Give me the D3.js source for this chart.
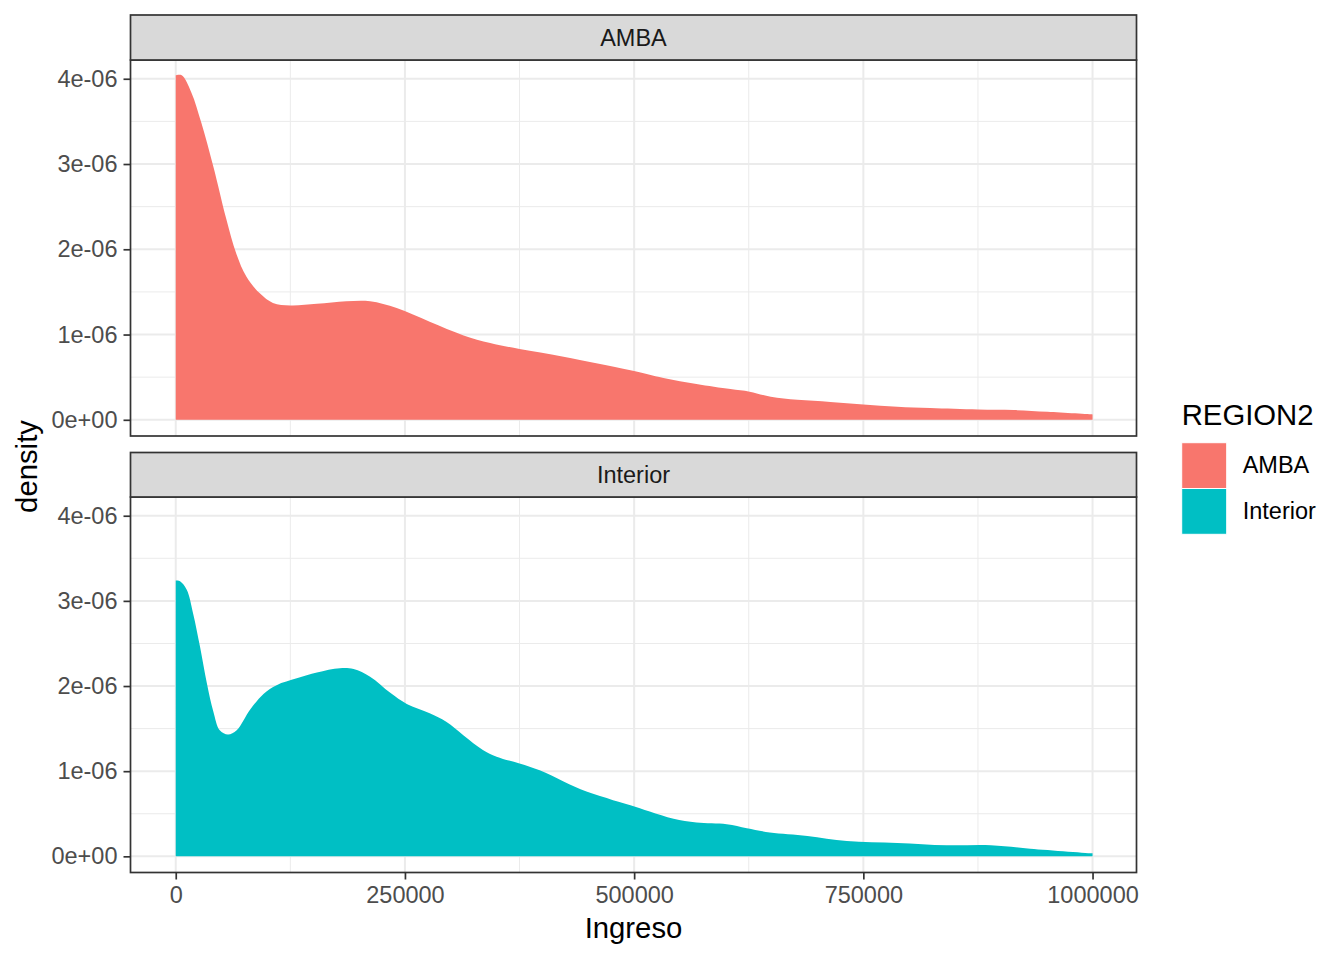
<!DOCTYPE html>
<html>
<head>
<meta charset="utf-8">
<script src="https://cdn.jsdelivr.net/npm/d3@7"></script>
<style>
	body { margin: 0; background: #fff; }
	svg { font-family: "Liberation Sans", Arial, sans-serif; }
</style>
</head>
<body>
<div id="dataviz"></div>
<script>
// valores (densidad en unidades de 1e-06)
var regiones = ["AMBA", "Interior"];
var colores = ["#F8766D", "#00BFC4"];

var ambaIngreso = [0, 6500, 17000, 28000, 41000, 55000, 66000, 77000, 92000, 106000,
	125000, 154000, 186000, 212000, 241000, 277000, 314000, 343000, 375000, 423000,
	496000, 532000, 568000, 605000, 626000, 649000, 678000, 714000, 750000, 787000,
	823000, 875000, 914000, 951000, 1000000];
var ambaDensidad = [4.04, 4.04, 3.84, 3.48, 2.97, 2.36, 1.95, 1.68, 1.48, 1.37,
	1.34, 1.36, 1.39, 1.39, 1.31, 1.15, 0.99, 0.90, 0.83, 0.74,
	0.58, 0.49, 0.42, 0.36, 0.33, 0.27, 0.235, 0.21, 0.18, 0.153,
	0.137, 0.12, 0.114, 0.094, 0.063];

var interiorIngreso = [0, 4700, 12000, 19000, 26500, 34000, 41000, 48000, 57000, 66500,
	81000, 96000, 110000, 132000, 154000, 179000, 194000, 212000, 234000, 252000,
	277000, 295000, 314000, 335000, 350000, 375000, 397000, 423000, 448000, 477000,
	496000, 517000, 543000, 568000, 601000, 623000, 648000, 689000, 732000, 787000,
	841000, 889000, 932000, 1000000];
var interiorDensidad = [3.24, 3.23, 3.13, 2.85, 2.46, 2.03, 1.70, 1.48, 1.43, 1.48,
	1.72, 1.91, 2.01, 2.09, 2.16, 2.21, 2.20, 2.11, 1.92, 1.79,
	1.68, 1.58, 1.42, 1.25, 1.17, 1.09, 1.01, 0.88, 0.76, 0.66,
	0.60, 0.525, 0.44, 0.396, 0.376, 0.33, 0.28, 0.24, 0.18, 0.157,
	0.13, 0.13, 0.09, 0.035];

var xTicks = [0, 250000, 500000, 750000, 1000000];
var xTickLabels = ["0", "250000", "500000", "750000", "1000000"];
var xMinor = [125000, 375000, 625000, 875000];
var yTicks = [0, 1e-6, 2e-6, 3e-6, 4e-6];
var yTickLabels = ["0e+00", "1e-06", "2e-06", "3e-06", "4e-06"];
var yMinor = [0.5e-6, 1.5e-6, 2.5e-6, 3.5e-6];

function serie(ingreso, densidad) {
	return ingreso.map(function(v, i) {
		return {ingreso: v, densidad: densidad[i] * 1e-6};
	});
}
var series = [serie(ambaIngreso, ambaDensidad), serie(interiorIngreso, interiorDensidad)];

var svg = d3.select("#dataviz")
	.append("svg")
	.attr("width", 1344)
	.attr("height", 960);

var left = 131, right = 1136;
var paneles = [
	{strip: 15, top: 60, bottom: 436},
	{strip: 452.5, top: 497, bottom: 872.5}
];

var x = d3.scaleLinear()
	.domain([-48800, 1047400])
	.range([left, right]);

paneles.forEach(function(p, k) {
	var y = d3.scaleLinear()
		.domain([-0.19e-6, 4.22e-6])
		.range([p.bottom, p.top]);

	var g = svg.append("g");

	// fondo y grilla
	g.append("rect")
		.attr("x", left).attr("y", p.top)
		.attr("width", right - left).attr("height", p.bottom - p.top)
		.attr("fill", "#fff");

	g.selectAll(".ymin").data(yMinor).enter().append("line")
		.attr("x1", left).attr("x2", right)
		.attr("y1", function(d) { return y(d); })
		.attr("y2", function(d) { return y(d); })
		.attr("stroke", "#EBEBEB").attr("stroke-width", 1);
	g.selectAll(".xmin").data(xMinor).enter().append("line")
		.attr("y1", p.top).attr("y2", p.bottom)
		.attr("x1", function(d) { return x(d); })
		.attr("x2", function(d) { return x(d); })
		.attr("stroke", "#EBEBEB").attr("stroke-width", 1);
	g.selectAll(".ymaj").data(yTicks).enter().append("line")
		.attr("x1", left).attr("x2", right)
		.attr("y1", function(d) { return y(d); })
		.attr("y2", function(d) { return y(d); })
		.attr("stroke", "#EBEBEB").attr("stroke-width", 2);
	g.selectAll(".xmaj").data(xTicks).enter().append("line")
		.attr("y1", p.top).attr("y2", p.bottom)
		.attr("x1", function(d) { return x(d); })
		.attr("x2", function(d) { return x(d); })
		.attr("stroke", "#EBEBEB").attr("stroke-width", 2);

	var area = d3.area()
		.x(function(d) { return x(d.ingreso); })
		.y0(y(0))
		.y1(function(d) { return y(d.densidad); })
		.curve(d3.curveCatmullRom.alpha(0.5));

	g.append("path")
		.datum(series[k])
		.attr("fill", colores[k])
		.attr("d", area);

	// borde del panel
	g.append("rect")
		.attr("x", left - 0.5).attr("y", p.top)
		.attr("width", right - left + 1).attr("height", p.bottom - p.top)
		.attr("fill", "none")
		.attr("stroke", "#333333").attr("stroke-width", 1.7);

	// strip
	g.append("rect")
		.attr("x", left - 0.5).attr("y", p.strip)
		.attr("width", right - left + 1).attr("height", p.top - p.strip)
		.attr("fill", "#D9D9D9")
		.attr("stroke", "#333333").attr("stroke-width", 1.7);
	g.append("text")
		.attr("x", (left + right) / 2)
		.attr("y", (p.strip + p.top) / 2 + 8.4)
		.attr("text-anchor", "middle")
		.attr("font-size", "23.5px")
		.attr("fill", "#1A1A1A")
		.text(regiones[k]);

	// eje y
	var ay = g.append("g")
		.attr("transform", "translate(" + (left - 0.5) + ",0)")
		.call(d3.axisLeft(y).tickValues(yTicks)
			.tickFormat(function(d, i) { return yTickLabels[i]; })
			.tickSize(7).tickPadding(6));
	ay.select(".domain").remove();
	ay.selectAll(".tick line").attr("stroke", "#333333").attr("stroke-width", 1.7);
	ay.selectAll(".tick text").attr("fill", "#4D4D4D").attr("font-size", "23.5px")
		.attr("font-family", "Liberation Sans, Arial, sans-serif");

	if (k === 1) {
		var ax = g.append("g")
			.attr("transform", "translate(0," + p.bottom + ")")
			.call(d3.axisBottom(x).tickValues(xTicks)
				.tickFormat(function(d, i) { return xTickLabels[i]; })
				.tickSize(7).tickPadding(7));
		ax.select(".domain").remove();
		ax.selectAll(".tick line").attr("stroke", "#333333").attr("stroke-width", 1.7);
		ax.selectAll(".tick text").attr("fill", "#4D4D4D").attr("font-size", "23.5px")
			.attr("font-family", "Liberation Sans, Arial, sans-serif");
	}
});

// titulos de ejes
svg.append("text")
	.attr("x", (left + right) / 2)
	.attr("y", 938.3)
	.attr("text-anchor", "middle")
	.attr("font-size", "29.3px")
	.attr("fill", "#000")
	.text("Ingreso");

svg.append("text")
	.attr("transform", "translate(37,466.5) rotate(-90)")
	.attr("text-anchor", "middle")
	.attr("font-size", "29.3px")
	.attr("fill", "#000")
	.text("density");

// leyenda
var leyenda = svg.append("g").attr("transform", "translate(1181.7,0)");
leyenda.append("text")
	.attr("x", 0).attr("y", 425)
	.attr("font-size", "29.3px")
	.attr("fill", "#000")
	.text("REGION2");

var claves = leyenda.selectAll(".clave").data(regiones).enter().append("g")
	.attr("transform", function(d, i) { return "translate(0," + (442.7 + i * 45.8) + ")"; });
claves.append("rect")
	.attr("width", 45).attr("height", 45.8)
	.attr("fill", function(d, i) { return colores[i]; })
	.attr("stroke", "#fff").attr("stroke-width", 1);
claves.append("text")
	.attr("x", 61).attr("y", 30.6)
	.attr("font-size", "23.5px")
	.attr("fill", "#000")
	.text(function(d) { return d; });
</script>
</body>
</html>
